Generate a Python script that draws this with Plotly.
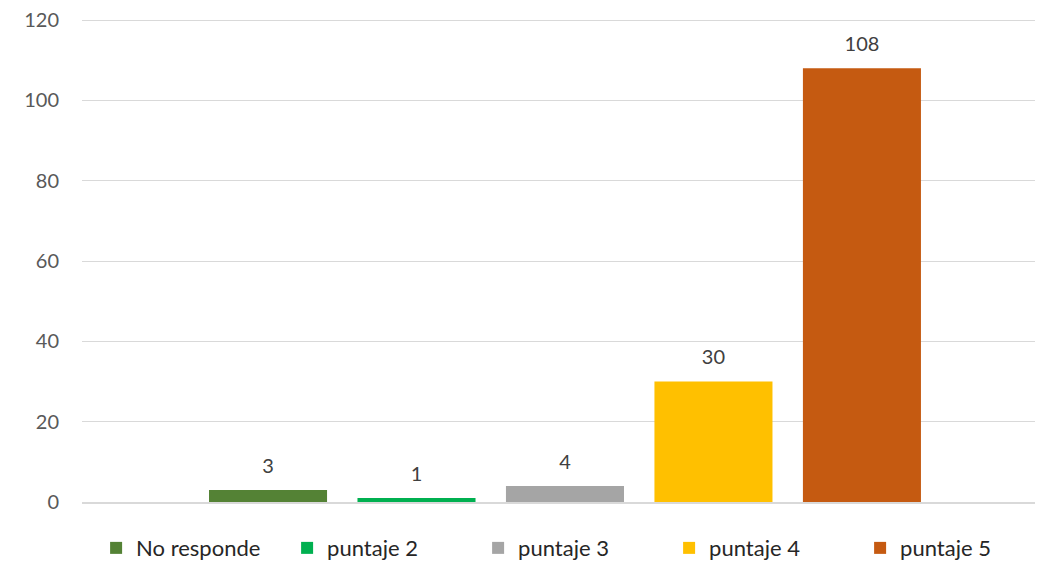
import plotly.graph_objects as go

series_names = ["No responde", "puntaje 2", "puntaje 3", "puntaje 4", "puntaje 5"]
values = [3, 1, 4, 30, 108]
colors = ["#548235", "#00B050", "#A5A5A5", "#FFC000", "#C55A11"]
category = [""]
y_ticks = [0, 20, 40, 60, 80, 100, 120]

FONT = "Lato"
BARGAP = 0.221

fig = go.Figure()
for name, v, c in zip(series_names, values, colors):
    fig.add_trace(go.Bar(
        x=category, y=[v], name=name, marker=dict(color=c, line=dict(width=0)),
        offsetgroup=name,
    ))
for name, v in zip(series_names, values):
    fig.add_trace(go.Scatter(
        x=category, y=[v], mode="markers+text", orientation="v",
        text=[str(v)], textposition="top center", showlegend=False,
        marker=dict(size=18, opacity=0), hoverinfo="skip", cliponaxis=False,
        offsetgroup=name,
        textfont=dict(family=FONT, size=20, color="#404040"),
    ))

fig.update_layout(
    width=1048, height=553,
    paper_bgcolor="white", plot_bgcolor="white",
    margin=dict(l=74, r=21, t=7.5, b=59, autoexpand=False),
    barmode="group", bargap=BARGAP, bargroupgap=0.205,
    scattermode="group", scattergap=BARGAP,
    font=dict(family=FONT, size=18, color="#595959"),
    xaxis=dict(range=[-0.5068, 0.4932], showticklabels=False, showgrid=False,
               showline=True, linecolor="#D9D9D9", linewidth=1.5, zeroline=False),
    yaxis=dict(range=[0, 121], tickvals=y_ticks, showgrid=True, gridcolor="#D9D9D9",
               gridwidth=1.3, zeroline=False, showline=False, ticks="",
               ticklabeloverflow="allow",
               ticklabelstandoff=22, tickfont=dict(family=FONT, size=20, color="#595959")),
    legend=dict(orientation="h", x=0.0148, xanchor="left", y=-0.0516, yanchor="top",
                entrywidth=146, entrywidthmode="pixels",
                font=dict(family=FONT, size=22, color="#262626"),
                itemwidth=30, tracegroupgap=0),
    showlegend=True,
)

fig.write_html("out.html")
